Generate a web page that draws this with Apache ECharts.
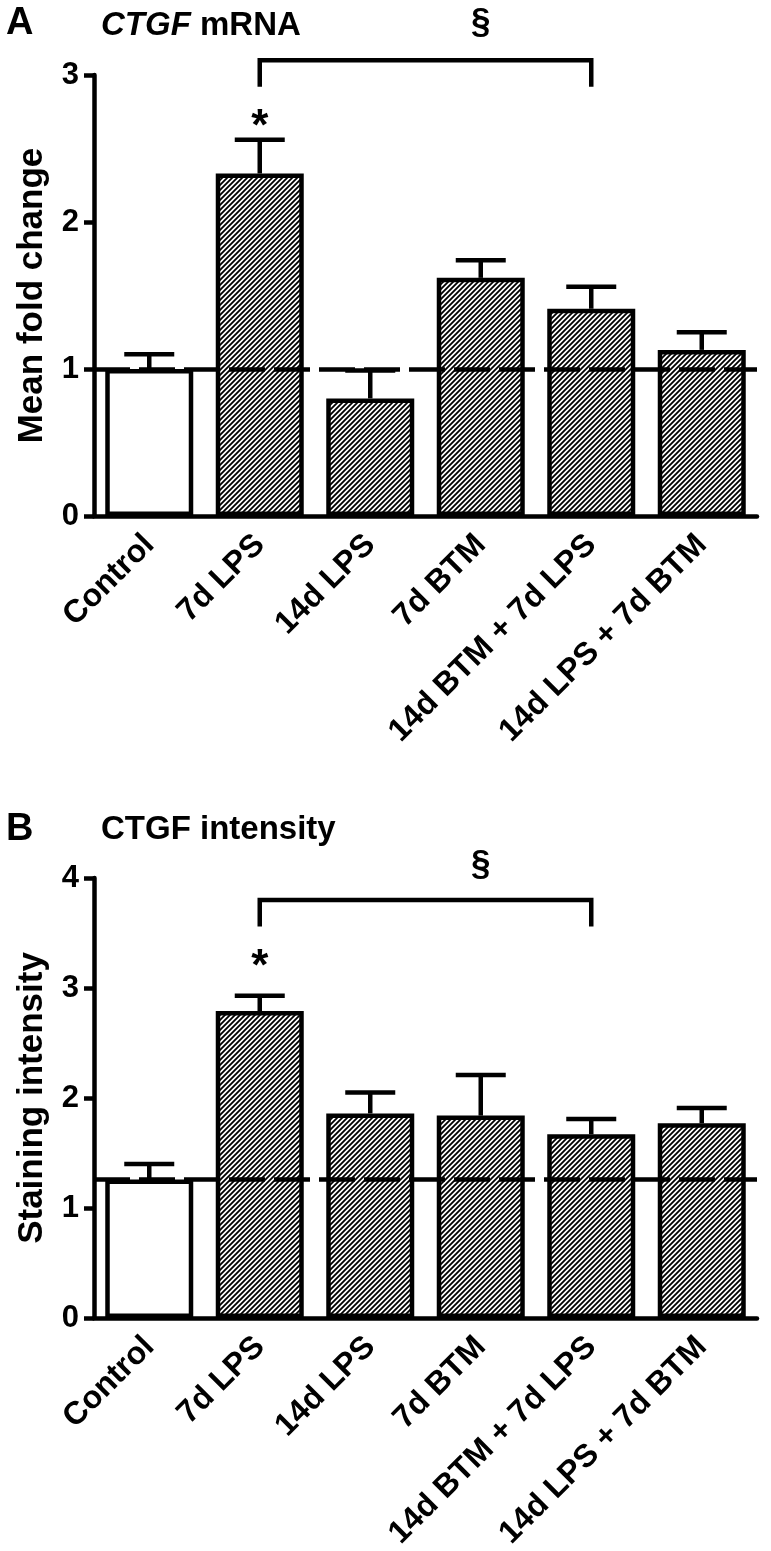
<!DOCTYPE html>
<html><head><meta charset="utf-8">
<script src="https://cdn.jsdelivr.net/npm/echarts@6/dist/echarts.min.js"></script>
<style>html,body{margin:0;padding:0;background:#fff}#c{width:771px;height:1551px}</style>
</head><body><div id="c"></div>
<script>
// ---- data ----
const categories = ['Control', '7d LPS', '14d LPS', '7d BTM', '14d BTM + 7d LPS', '14d LPS + 7d BTM'];
const mrnaMean = [1.00, 2.33, 0.80, 1.62, 1.41, 1.13];
const mrnaUpper = [1.10, 2.56, 0.99, 1.74, 1.56, 1.25];
const intensityMean = [1.26, 2.79, 1.86, 1.84, 1.67, 1.77];
const intensityUpper = [1.40, 2.93, 2.05, 2.21, 1.81, 1.91];
const mrnaAxis = [0, 3, 1];        // min, max, interval
const intensityAxis = [0, 4, 1];
// significance bracket: from index, to index, bar level, leg end, symbol level
const mrnaBracket = [1, 4, 3.10, 2.92, 3.36];
const intensityBracket = [1, 4, 3.80, 3.56, 4.12];
// star: category index, level
const mrnaStar = [1, 2.64];
const intensityStar = [1, 3.18];

const FONT = '"Liberation Sans", Arial, Helvetica, sans-serif';
const LW = 4.5;

function makeHatch() {
  const s = 5, c = document.createElement('canvas');
  c.width = s; c.height = s;
  const g = c.getContext('2d');
  g.fillStyle = '#fff'; g.fillRect(0, 0, s, s);
  g.strokeStyle = '#000'; g.lineWidth = 1.8; g.lineCap = 'square';
  g.beginPath();
  g.moveTo(-1, s + 1); g.lineTo(s + 1, -1);
  g.moveTo(-1, 1); g.lineTo(1, -1);
  g.moveTo(s - 1, s + 1); g.lineTo(s + 1, s - 1);
  g.stroke();
  return c;
}
const hatch = makeHatch();

function barData(vals) {
  return vals.map((v, i) => ({
    value: v,
    itemStyle: { color: i === 0 ? '#fff' : { image: hatch, repeat: 'repeat' } }
  }));
}

function errRender(params, api) {
  const i = api.value(0), m = api.value(1), u = api.value(2);
  const p0 = api.coord([i, m]), p1 = api.coord([i, u]);
  const hw = 25;
  return { type: 'group', children: [
    { type: 'line', shape: { x1: p0[0], y1: p0[1], x2: p1[0], y2: p1[1] }, style: { stroke: '#000', lineWidth: LW } },
    { type: 'line', shape: { x1: p1[0] - hw, y1: p1[1], x2: p1[0] + hw, y2: p1[1] }, style: { stroke: '#000', lineWidth: LW } }
  ]};
}

function bracketRender(params, api) {
  const f = api.value(0), t = api.value(1), top = api.value(2), leg = api.value(3), sy = api.value(4);
  const a = api.coord([f, leg]), b = api.coord([f, top]), c = api.coord([t, top]), d = api.coord([t, leg]);
  const s = api.coord([(f + t) / 2, sy]);
  return { type: 'group', children: [
    { type: 'polyline', shape: { points: [a, b, c, d] }, style: { stroke: '#000', fill: null, lineWidth: LW } },
    { type: 'text', style: { text: '§', x: s[0], y: s[1], align: 'center', verticalAlign: 'middle',
      font: 'bold 35px ' + FONT, fill: '#000' } }
  ]};
}

function starRender(params, api) {
  const p = api.coord([api.value(0), api.value(1)]);
  return { type: 'text', style: { text: '*', x: p[0], y: p[1], align: 'center', verticalAlign: 'middle',
    font: 'bold 44px ' + FONT, fill: '#000' } };
}

function yAxis(gi, ax, name) {
  return {
    gridIndex: gi, type: 'value', min: ax[0], max: ax[1], interval: ax[2],
    axisLine: { show: true, lineStyle: { width: LW, color: '#000' } },
    axisTick: { show: true, length: 10, lineStyle: { width: LW, color: '#000' } },
    axisLabel: { fontSize: 31, fontWeight: 'bold', color: '#000', fontFamily: FONT, margin: 15 },
    splitLine: { show: false },
    name: name, nameLocation: 'middle', nameGap: 44,
    nameTextStyle: { fontSize: 35, fontWeight: 'bold', color: '#000', fontFamily: FONT }
  };
}
function xAxis(gi) {
  return {
    gridIndex: gi, type: 'category', data: categories,
    axisLine: { show: true, lineStyle: { width: LW, color: '#000' } },
    axisTick: { show: false },
    axisLabel: { rotate: 45, interval: 0, fontSize: 32, fontWeight: 'bold', color: '#000', fontFamily: FONT, margin: 24 }
  };
}

function panelSeries(gi, mean, upper, bracket, star) {
  return [
    { type: 'bar', xAxisIndex: gi, yAxisIndex: gi, data: barData(mean), barWidth: 88,
      itemStyle: { borderColor: '#000', borderWidth: LW },
      markLine: { silent: true, symbol: 'none', label: { show: false },
        lineStyle: { color: '#000', width: LW, type: [36, 9] },
        data: [{ yAxis: mean[0] }] } },
    { type: 'custom', xAxisIndex: gi, yAxisIndex: gi, renderItem: errRender,
      data: mean.map((m, i) => [i, m, upper[i]]), z: 3 },
    { type: 'custom', xAxisIndex: gi, yAxisIndex: gi, renderItem: bracketRender,
      data: [bracket], clip: false, z: 3 },
    { type: 'custom', xAxisIndex: gi, yAxisIndex: gi, renderItem: starRender,
      data: [star], clip: false, z: 3 }
  ];
}

const chart = echarts.init(document.getElementById('c'), null, { renderer: 'canvas' });
chart.setOption({
  backgroundColor: '#fff',
  animation: false,
  title: [
    { text: 'A', left: 1, top: 0, textStyle: { fontSize: 38, fontWeight: 'bold', color: '#000', fontFamily: FONT } },
    { text: '{i|CTGF} mRNA', left: 96, top: 4, textStyle: { fontSize: 33, fontWeight: 'bold', color: '#000', fontFamily: FONT,
        rich: { i: { fontStyle: 'italic', fontWeight: 'bold', fontSize: 33, color: '#000', fontFamily: FONT } } } },
    { text: 'B', left: 1, top: 806, textStyle: { fontSize: 38, fontWeight: 'bold', color: '#000', fontFamily: FONT } },
    { text: 'CTGF intensity', left: 96, top: 808, textStyle: { fontSize: 33, fontWeight: 'bold', color: '#000', fontFamily: FONT } }
  ],
  grid: [
    { left: 94, top: 75, width: 663, height: 441, containLabel: false, outerBoundsMode: 'none' },
    { left: 94, top: 878, width: 663, height: 440, containLabel: false, outerBoundsMode: 'none' }
  ],
  xAxis: [xAxis(0), xAxis(1)],
  yAxis: [yAxis(0, mrnaAxis, 'Mean fold change'), yAxis(1, intensityAxis, 'Staining intensity')],
  series: [
    ...panelSeries(0, mrnaMean, mrnaUpper, mrnaBracket, mrnaStar),
    ...panelSeries(1, intensityMean, intensityUpper, intensityBracket, intensityStar)
  ]
});
</script>
</body></html>
